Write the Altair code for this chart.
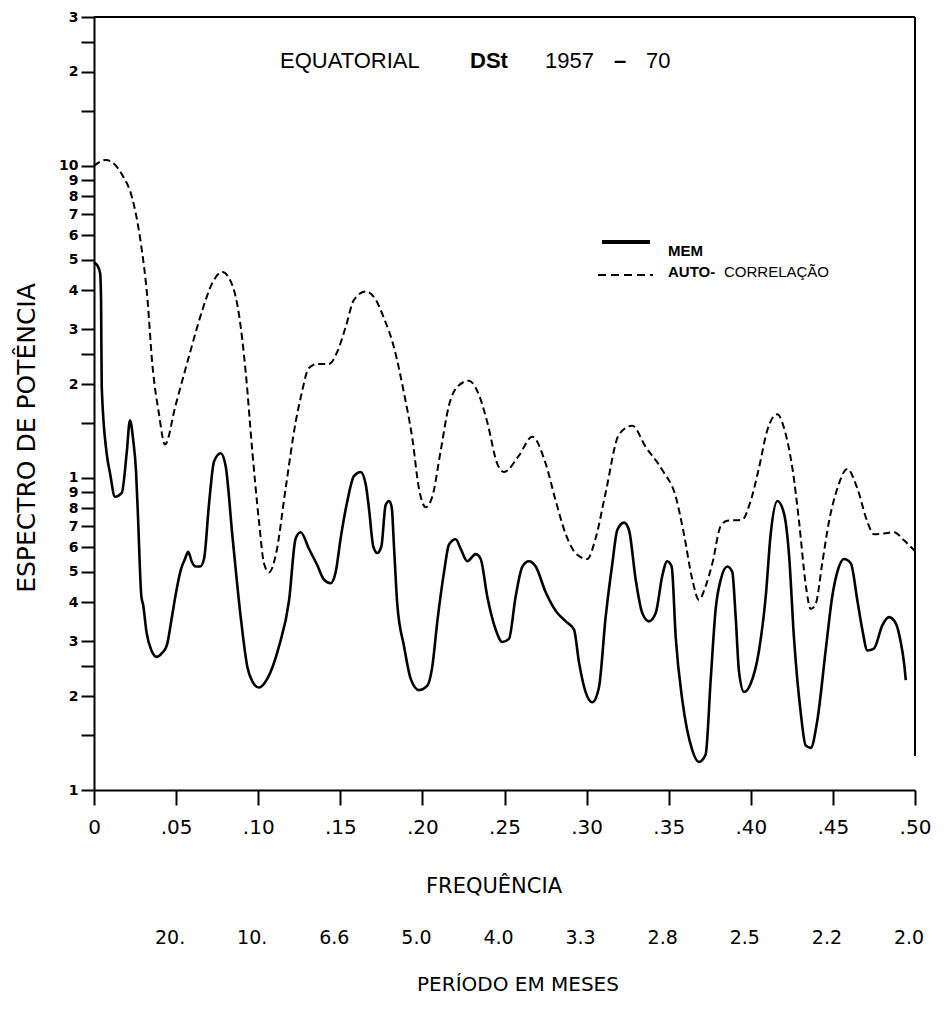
import altair as alt
import pandas as pd

# ---------------- data ----------------
mem_freq = [0.000, 0.002, 0.0037, 0.0043, 0.0047, 0.0077, 0.0097, 0.0128, 0.0169, 0.0199,
            0.0219, 0.0239, 0.0256, 0.0268, 0.0288, 0.0300, 0.0320, 0.0350, 0.0382, 0.0415,
            0.0443, 0.0475, 0.0500, 0.0530, 0.0554, 0.0574, 0.0595, 0.0620, 0.0646, 0.0670,
            0.0700, 0.0731, 0.0772, 0.0802, 0.0842, 0.0893, 0.0934, 0.0964, 0.1005, 0.1055,
            0.1127, 0.1188, 0.1228, 0.1259, 0.1309, 0.1360, 0.1401, 0.1441, 0.1472, 0.1502,
            0.1543, 0.1583, 0.1624, 0.1655, 0.1675, 0.1701, 0.1725, 0.1750, 0.1776, 0.1797,
            0.1813, 0.1827, 0.1847, 0.1888, 0.1929, 0.1979, 0.2030, 0.2060, 0.2091, 0.2132,
            0.2162, 0.2203, 0.2233, 0.2273, 0.2325, 0.2355, 0.2395, 0.2446, 0.2487, 0.2527,
            0.2568, 0.2609, 0.2649, 0.2690, 0.2751, 0.2812, 0.2873, 0.2923, 0.2954, 0.2994,
            0.3035, 0.3075, 0.3116, 0.3157, 0.3187, 0.3228, 0.3258, 0.3299, 0.3339, 0.3380,
            0.3421, 0.3461, 0.3491, 0.3518, 0.3543, 0.3583, 0.3644, 0.3684, 0.3725, 0.3756,
            0.3786, 0.3817, 0.3857, 0.3887, 0.3908, 0.3928, 0.3959, 0.3999, 0.4050, 0.4091,
            0.4121, 0.4162, 0.4202, 0.4233, 0.4263, 0.4304, 0.4334, 0.4365, 0.4405, 0.4456,
            0.4496, 0.4527, 0.4568, 0.4609, 0.4649, 0.4679, 0.4710, 0.4750, 0.4801, 0.4842,
            0.4883, 0.4913, 0.4933, 0.4944]
mem_power = [4.90, 4.80, 4.54, 3.72, 1.96, 1.20, 1.04, 0.87, 0.895, 1.20,
             1.53, 1.32, 1.05, 0.75, 0.42, 0.39, 0.32, 0.28, 0.267, 0.275,
             0.29, 0.36, 0.43, 0.51, 0.55, 0.58, 0.54, 0.52, 0.52, 0.55,
             0.82, 1.13, 1.20, 1.09, 0.66, 0.36, 0.248, 0.223, 0.213, 0.227,
             0.289, 0.405, 0.64, 0.67, 0.593, 0.525, 0.472, 0.46, 0.50, 0.64,
             0.844, 1.014, 1.045, 0.953, 0.794, 0.603, 0.575, 0.603, 0.819, 0.844,
             0.806, 0.603, 0.394, 0.289, 0.227, 0.209, 0.216, 0.248, 0.347, 0.50,
             0.612, 0.636, 0.593, 0.541, 0.570, 0.55, 0.417, 0.327, 0.298, 0.305,
             0.417, 0.52, 0.541, 0.52, 0.43, 0.375, 0.347, 0.327, 0.256, 0.206,
             0.191, 0.213, 0.358, 0.533, 0.681, 0.719, 0.681, 0.472, 0.369, 0.347,
             0.369, 0.486, 0.541, 0.52, 0.307, 0.194, 0.134, 0.123, 0.130, 0.227,
             0.38, 0.472, 0.52, 0.50, 0.358, 0.24, 0.206, 0.219, 0.28, 0.417,
             0.66, 0.844, 0.77, 0.566, 0.307, 0.177, 0.139, 0.1365, 0.167, 0.28,
             0.417, 0.50, 0.55, 0.533, 0.405, 0.327, 0.28, 0.284, 0.337, 0.358,
             0.342, 0.298, 0.256, 0.225]

acf_freq = [0.000, 0.0071, 0.0173, 0.0233, 0.0284, 0.0325, 0.0355, 0.0396, 0.0432, 0.0497,
            0.0579, 0.0660, 0.0720, 0.0781, 0.0842, 0.0883, 0.0924, 0.0964, 0.1005, 0.1035,
            0.1066, 0.1107, 0.1167, 0.1228, 0.1259, 0.1309, 0.1360, 0.1431, 0.1482, 0.1533,
            0.1583, 0.1655, 0.1716, 0.1766, 0.1827, 0.1888, 0.1939, 0.1979, 0.2020, 0.2060,
            0.2111, 0.2162, 0.2213, 0.2284, 0.2334, 0.2395, 0.2456, 0.2497, 0.2588, 0.2669,
            0.2751, 0.2812, 0.2873, 0.2943, 0.3004, 0.3055, 0.3116, 0.3197, 0.3278, 0.3360,
            0.3461, 0.3543, 0.3593, 0.3644, 0.3684, 0.3725, 0.3766, 0.3817, 0.3857, 0.3948,
            0.3999, 0.4050, 0.4100, 0.4161, 0.4213, 0.4253, 0.4294, 0.4334, 0.4365, 0.4395,
            0.4435, 0.4476, 0.4527, 0.4588, 0.4649, 0.4710, 0.4750, 0.4811, 0.4872, 0.4933,
            0.4998]
acf_power = [10.0, 10.45, 9.33, 7.88, 5.71, 3.78, 2.32, 1.60, 1.28, 1.71,
             2.46, 3.45, 4.21, 4.57, 4.15, 3.34, 2.18, 1.22, 0.724, 0.533,
             0.498, 0.566, 0.925, 1.51, 1.81, 2.25, 2.32, 2.32, 2.54, 3.05,
             3.72, 3.96, 3.72, 3.25, 2.62, 1.87, 1.334, 0.925, 0.806, 0.870,
             1.22, 1.71, 1.96, 2.05, 1.90, 1.51, 1.11, 1.045, 1.18, 1.355,
             1.11, 0.844, 0.66, 0.567, 0.55, 0.641, 0.897, 1.377, 1.47, 1.257,
             1.06, 0.87, 0.66, 0.472, 0.407, 0.45, 0.533, 0.702, 0.729, 0.735,
             0.844, 1.078, 1.42, 1.60, 1.377, 1.078, 0.724, 0.457, 0.38, 0.394,
             0.533, 0.724, 0.925, 1.069, 0.925, 0.724, 0.66, 0.664, 0.67, 0.631,
             0.584]

y_tick_values = [0.1, 0.15, 0.2, 0.25, 0.3, 0.4, 0.5, 0.6, 0.7, 0.8, 0.9,
                 1, 1.5, 2, 2.5, 3, 4, 5, 6, 7, 8, 9, 10, 15, 20, 25, 30]
y_tick_labels = ["1", "", "2", "", "3", "4", "5", "6", "7", "8", "9",
                 "1", "", "2", "", "3", "4", "5", "6", "7", "8", "9", "10", "", "2", "", "3"]
x_tick_values = [0, 0.05, 0.1, 0.15, 0.2, 0.25, 0.3, 0.35, 0.4, 0.45, 0.5]
x_tick_labels = ["0", ".05", ".10", ".15", ".20", ".25", ".30", ".35", ".40", ".45", ".50"]
period_freq = [0.05, 0.1, 0.15, 0.2, 0.25, 0.3, 0.35, 0.4, 0.45, 0.5]
period_labels = ["20.", "10.", "6.6", "5.0", "4.0", "3.3", "2.8", "2.5", "2.2", "2.0"]

# ---------------- chart ----------------
W, H = 821, 773
FONT = "DejaVu Sans"
LFONT = "Liberation Sans"


def lookup_expr(values, labels):
    return ("[" + ",".join("'" + s + "'" for s in labels) + "][indexof(["
            + ",".join(str(v) for v in values) + "], datum.value)]")


xscale = alt.Scale(domain=[0, 0.5], nice=False, zero=False)
yscale = alt.Scale(type="log", domain=[0.1, 30], nice=False)

xaxis = alt.Axis(values=x_tick_values, labelExpr=lookup_expr(x_tick_values, x_tick_labels),
                 title=None, grid=False, domainColor="black", domainWidth=2,
                 tickColor="black", tickWidth=2, tickSize=15, labelFont=FONT,
                 labelFontSize=20, labelPadding=12, labelColor="black",
                 labelFlush=False, labelOverlap=False)
yaxis = alt.Axis(values=y_tick_values, labelExpr=lookup_expr(y_tick_values, y_tick_labels),
                 title=None, grid=False, domainColor="black", domainWidth=2,
                 tickColor="black", tickWidth=2, tickSize=13, labelFont=FONT,
                 labelFontSize=14, labelFontWeight="bold", labelPadding=3, labelColor="black",
                 labelFlush=False, labelOverlap=False, labelBaseline="middle")

mem_df = pd.DataFrame({"f": mem_freq, "p": mem_power})
acf_df = pd.DataFrame({"f": acf_freq, "p": acf_power})
per_df = pd.DataFrame({"f": period_freq, "lab": period_labels})

mem = alt.Chart(mem_df).mark_line(color="black", strokeWidth=2.6, interpolate="monotone").encode(
    x=alt.X("f:Q", scale=xscale, axis=xaxis),
    y=alt.Y("p:Q", scale=yscale, axis=yaxis),
)
acf = alt.Chart(acf_df).mark_line(color="black", strokeWidth=2, strokeDash=[7, 4],
                                  interpolate="monotone").encode(
    x=alt.X("f:Q", scale=xscale, axis=xaxis),
    y=alt.Y("p:Q", scale=yscale, axis=yaxis),
)
periods = alt.Chart(per_df).mark_text(font=FONT, fontSize=19, color="black", dx=-6,
                                      baseline="middle").encode(
    x=alt.X("f:Q", scale=xscale, axis=xaxis),
    y=alt.value(921),
    text="lab:N",
)

one = pd.DataFrame({"k": [0]})


def label(text, x, y, **kw):
    d = pd.DataFrame({"t": [text]})
    return alt.Chart(d).mark_text(color="black", **kw).encode(
        x=alt.value(x), y=alt.value(y), text="t:N")


def rule(x, y, x2=None, y2=None, **kw):
    enc = {"x": alt.value(x), "y": alt.value(y)}
    if x2 is not None:
        enc["x2"] = alt.value(x2)
    if y2 is not None:
        enc["y2"] = alt.value(y2)
    return alt.Chart(one).mark_rule(color="black", **kw).encode(**enc)


top_border = rule(0, 0, x2=W, strokeWidth=2)
right_border = rule(W, 0, y2=739, strokeWidth=2)

t1 = label("EQUATORIAL", 186, 51, font=LFONT, fontSize=22, align="left", baseline="alphabetic")
t2 = label("DSt", 376, 51, font=LFONT, fontSize=22, fontWeight="bold", align="left", baseline="alphabetic")
t3 = label("1957", 451, 51, font=LFONT, fontSize=22, align="left", baseline="alphabetic")
t4 = label("–", 520, 51, font=LFONT, fontSize=22, fontWeight="bold", align="left", baseline="alphabetic")
t5 = label("70", 552, 51, font=LFONT, fontSize=22, align="left", baseline="alphabetic")

leg1 = rule(508, 225, x2=556, strokeWidth=4)
leg2 = rule(504, 258, x2=559, strokeWidth=2, strokeDash=[8, 5])
leg3 = label("MEM", 574, 234, font=LFONT, fontSize=15, fontWeight="bold", align="left", baseline="middle")
leg4 = label("AUTO-", 574, 255, font=LFONT, fontSize=15, fontWeight="bold", align="left", baseline="middle")
leg5 = label("CORRELAÇÃO", 630, 255, font=LFONT, fontSize=15, align="left", baseline="middle")

xtitle = label("FREQUÊNCIA", 400, 870, font=FONT, fontSize=21, align="center", baseline="middle")
ptitle = label("PERÍODO EM MESES", 424, 968, font=FONT, fontSize=20, align="center", baseline="middle")
ytitle = label("ESPECTRO DE POTÊNCIA", -67, 421, font=FONT, fontSize=25, angle=270,
               align="center", baseline="middle")

chart = alt.layer(
    acf, mem, periods, top_border, right_border,
    t1, t2, t3, t4, t5, leg1, leg2, leg3, leg4, leg5, xtitle, ptitle, ytitle,
).properties(
    width=W, height=H,
    padding={"left": 94, "top": 17, "right": 29, "bottom": 221},
    autosize=alt.AutoSizeParams(type="none"),
    background="white",
).configure_view(stroke=None)

chart.save("out.html", embed_options={"renderer": "svg", "actions": False})
